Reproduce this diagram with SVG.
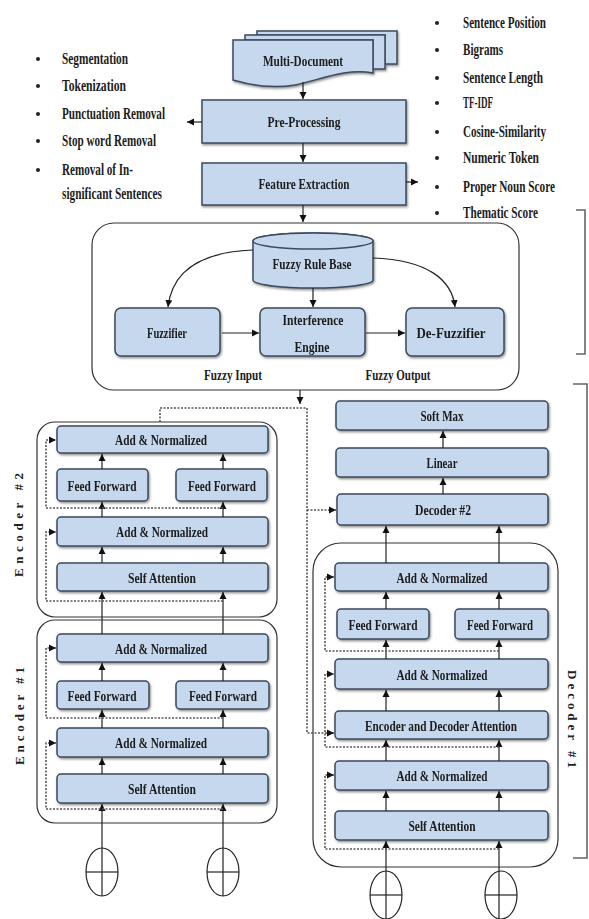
<svg xmlns="http://www.w3.org/2000/svg" width="589" height="919" viewBox="0 0 589 919">
<defs>
<style>
.box{fill:#c5d8ee;stroke:#3c4a5c;stroke-width:1.5}
.t{font-family:"Liberation Serif",serif;font-weight:bold;font-size:15.5px;fill:#1c1c1c;text-anchor:middle}
.b{font-family:"Liberation Serif",serif;font-weight:bold;font-size:16px;fill:#1c1c1c}
.ln{stroke:#222;stroke-width:1.2;fill:none}
.dash{stroke:#555;stroke-width:1.6;stroke-dasharray:2 1.5;fill:none}
.frame{fill:#fff;stroke:#333;stroke-width:1.2}
.br{fill:none;stroke:#666;stroke-width:1.6}
.lab{font-family:"Liberation Serif",serif;font-weight:bold;font-size:13px;fill:#222;text-anchor:middle}
</style>
<marker id="ah" markerUnits="userSpaceOnUse" markerWidth="8" markerHeight="8" refX="7" refY="4" orient="auto">
<path d="M0,0.5 L7,4 L0,7.5 z" fill="#111"/>
</marker>
<filter id="sh" x="-5%" y="-10%" width="110%" height="130%">
<feDropShadow dx="1" dy="1.5" stdDeviation="0.8" flood-color="#333" flood-opacity="0.55"/>
</filter>
</defs>
<rect width="589" height="919" fill="#fff"/>

<!-- bullet lists -->
<g id="preproc-list" class="b">
<circle cx="38" cy="59" r="2" fill="#222"/><text x="62" y="64" textLength="66" lengthAdjust="spacingAndGlyphs">Segmentation</text>
<circle cx="38" cy="86" r="2" fill="#222"/><text x="62" y="91" textLength="64" lengthAdjust="spacingAndGlyphs">Tokenization</text>
<circle cx="38" cy="114" r="2" fill="#222"/><text x="62" y="119" textLength="103" lengthAdjust="spacingAndGlyphs">Punctuation Removal</text>
<circle cx="38" cy="141" r="2" fill="#222"/><text x="62" y="146" textLength="94" lengthAdjust="spacingAndGlyphs">Stop word Removal</text>
<circle cx="38" cy="170" r="2" fill="#222"/><text x="62" y="175" textLength="71" lengthAdjust="spacingAndGlyphs">Removal of In-</text>
<text x="62" y="199" textLength="100" lengthAdjust="spacingAndGlyphs">significant Sentences</text>
</g>
<g id="feature-list" class="b">
<circle cx="437" cy="23" r="2" fill="#222"/><text x="463" y="28" textLength="83" lengthAdjust="spacingAndGlyphs">Sentence Position</text>
<circle cx="437" cy="50" r="2" fill="#222"/><text x="463" y="55" textLength="40" lengthAdjust="spacingAndGlyphs">Bigrams</text>
<circle cx="437" cy="78" r="2" fill="#222"/><text x="463" y="83" textLength="80" lengthAdjust="spacingAndGlyphs">Sentence Length</text>
<circle cx="437" cy="103" r="2" fill="#222"/><text x="463" y="108" textLength="30" lengthAdjust="spacingAndGlyphs">TF-IDF</text>
<circle cx="437" cy="132" r="2" fill="#222"/><text x="463" y="137" textLength="83" lengthAdjust="spacingAndGlyphs">Cosine-Similarity</text>
<circle cx="437" cy="158" r="2" fill="#222"/><text x="463" y="163" textLength="76" lengthAdjust="spacingAndGlyphs">Numeric Token</text>
<circle cx="437" cy="187" r="2" fill="#222"/><text x="463" y="192" textLength="92" lengthAdjust="spacingAndGlyphs">Proper Noun Score</text>
<circle cx="437" cy="213" r="2" fill="#222"/><text x="463" y="218" textLength="75" lengthAdjust="spacingAndGlyphs">Thematic Score</text>
</g>

<!-- brackets -->
<path class="br" d="M576,210 H585 V354 H576"/>
<path class="br" d="M573,384 H587 V858 H573"/>

<!-- top pipeline -->
<g id="multi-document" filter="url(#sh)">
<path class="box" d="M257,31 H397 V64 H385 V35 H257 Z"/>
<path class="box" d="M245,35 H385 V69 H373 V40 H245 Z"/>
<path class="box" d="M233,40 H373 V73 C345,68 320,80 295,85 C270,89 250,85 233,80 Z"/>
<text class="t" x="303" y="66" textLength="80" lengthAdjust="spacingAndGlyphs">Multi-Document</text>
</g>
<g id="pre-processing" filter="url(#sh)">
<rect class="box" x="202" y="100" width="204" height="43"/>
<text class="t" x="304" y="127" textLength="73" lengthAdjust="spacingAndGlyphs">Pre-Processing</text>
</g>
<g id="feature-extraction" filter="url(#sh)">
<rect class="box" x="202" y="163" width="204" height="42"/>
<text class="t" x="304" y="189" textLength="91" lengthAdjust="spacingAndGlyphs">Feature Extraction</text>
</g>

<!-- fuzzy system -->
<g id="fuzzy-system">
<rect class="frame" x="92" y="223" width="427" height="167" rx="22"/>
<text class="t" x="233" y="380" textLength="58" lengthAdjust="spacingAndGlyphs">Fuzzy Input</text>
<text class="t" x="398" y="380" textLength="65" lengthAdjust="spacingAndGlyphs">Fuzzy Output</text>
</g>
<g id="fuzzy-rule-base" filter="url(#sh)">
<path class="box" d="M253,241 V280 A60,8 0 0 0 373,280 V241 A60,8 0 0 0 253,241 Z"/>
<ellipse class="box" cx="313" cy="241" rx="60" ry="8"/>
<text class="t" x="312" y="269" textLength="79" lengthAdjust="spacingAndGlyphs">Fuzzy Rule Base</text>
</g>
<g id="fuzzifier" filter="url(#sh)">
<rect class="box" x="115" y="308" width="105" height="48" rx="6"/>
<text class="t" x="167" y="338" textLength="40" lengthAdjust="spacingAndGlyphs">Fuzzifier</text>
</g>
<g id="interference-engine" filter="url(#sh)">
<rect class="box" x="260" y="308" width="105" height="48" rx="6"/>
<text class="t" x="313" y="325" textLength="61" lengthAdjust="spacingAndGlyphs">Interference</text>
<text class="t" x="312" y="352" textLength="35" lengthAdjust="spacingAndGlyphs">Engine</text>
</g>
<g id="de-fuzzifier" filter="url(#sh)">
<rect class="box" x="406" y="308" width="98" height="48" rx="6"/>
<text class="t" x="451" y="338" textLength="69" lengthAdjust="spacingAndGlyphs">De-Fuzzifier</text>
</g>

<!-- encoder frames -->
<g id="encoder-2">
<rect class="frame" x="37" y="422" width="240" height="195" rx="18"/>
<text class="lab" transform="translate(23,525) rotate(-90)" textLength="104" lengthAdjust="spacing">Encoder #2</text>
</g>
<g id="encoder-1">
<rect class="frame" x="37" y="620" width="240" height="203" rx="18"/>
<text class="lab" transform="translate(24,716) rotate(-90)" textLength="98" lengthAdjust="spacing">Encoder #1</text>
</g>
<g id="decoder-1">
<rect class="frame" x="313" y="543" width="245" height="324" rx="28"/>
<text class="lab" transform="translate(568,719) rotate(90)" textLength="98" lengthAdjust="spacing">Decoder #1</text>
</g>

<!-- encoder #2 nodes -->
<g id="e2-addnorm-top" filter="url(#sh)"><rect class="box" x="57" y="426" width="211" height="27" rx="4"/><text class="t" x="161" y="445" textLength="92" lengthAdjust="spacingAndGlyphs">Add &amp; Normalized</text></g>
<g id="e2-ff-left" filter="url(#sh)"><rect class="box" x="57" y="469" width="91" height="32" rx="4"/><text class="t" x="102" y="491" textLength="69" lengthAdjust="spacingAndGlyphs">Feed Forward</text></g>
<g id="e2-ff-right" filter="url(#sh)"><rect class="box" x="176" y="469" width="91" height="32" rx="4"/><text class="t" x="222" y="491" textLength="68" lengthAdjust="spacingAndGlyphs">Feed Forward</text></g>
<g id="e2-addnorm-mid" filter="url(#sh)"><rect class="box" x="57" y="517" width="211" height="29" rx="4"/><text class="t" x="162" y="537" textLength="92" lengthAdjust="spacingAndGlyphs">Add &amp; Normalized</text></g>
<g id="e2-self-attention" filter="url(#sh)"><rect class="box" x="57" y="563" width="211" height="28" rx="4"/><text class="t" x="162" y="583" textLength="68" lengthAdjust="spacingAndGlyphs">Self Attention</text></g>

<!-- encoder #1 nodes -->
<g id="e1-addnorm-top" filter="url(#sh)"><rect class="box" x="57" y="634" width="211" height="28" rx="4"/><text class="t" x="161" y="654" textLength="92" lengthAdjust="spacingAndGlyphs">Add &amp; Normalized</text></g>
<g id="e1-ff-left" filter="url(#sh)"><rect class="box" x="57" y="681" width="92" height="28" rx="4"/><text class="t" x="102" y="701" textLength="69" lengthAdjust="spacingAndGlyphs">Feed Forward</text></g>
<g id="e1-ff-right" filter="url(#sh)"><rect class="box" x="176" y="681" width="93" height="28" rx="4"/><text class="t" x="223" y="701" textLength="68" lengthAdjust="spacingAndGlyphs">Feed Forward</text></g>
<g id="e1-addnorm-mid" filter="url(#sh)"><rect class="box" x="57" y="728" width="211" height="29" rx="4"/><text class="t" x="161" y="748" textLength="92" lengthAdjust="spacingAndGlyphs">Add &amp; Normalized</text></g>
<g id="e1-self-attention" filter="url(#sh)"><rect class="box" x="57" y="774" width="211" height="29" rx="4"/><text class="t" x="162" y="794" textLength="68" lengthAdjust="spacingAndGlyphs">Self Attention</text></g>

<!-- decoder nodes -->
<g id="soft-max" filter="url(#sh)"><rect class="box" x="336" y="401" width="212" height="29" rx="4"/><text class="t" x="442" y="421" textLength="43" lengthAdjust="spacingAndGlyphs">Soft Max</text></g>
<g id="linear" filter="url(#sh)"><rect class="box" x="336" y="448" width="212" height="29" rx="4"/><text class="t" x="442" y="468" textLength="31" lengthAdjust="spacingAndGlyphs">Linear</text></g>
<g id="decoder-2" filter="url(#sh)"><rect class="box" x="337" y="494" width="211" height="31" rx="4"/><text class="t" x="443" y="515" textLength="56" lengthAdjust="spacingAndGlyphs">Decoder #2</text></g>
<g id="d1-addnorm-top" filter="url(#sh)"><rect class="box" x="335" y="563" width="213" height="28" rx="4"/><text class="t" x="442" y="583" textLength="91" lengthAdjust="spacingAndGlyphs">Add &amp; Normalized</text></g>
<g id="d1-ff-left" filter="url(#sh)"><rect class="box" x="337" y="609" width="92" height="30" rx="4"/><text class="t" x="383" y="630" textLength="69" lengthAdjust="spacingAndGlyphs">Feed Forward</text></g>
<g id="d1-ff-right" filter="url(#sh)"><rect class="box" x="455" y="609" width="93" height="30" rx="4"/><text class="t" x="500" y="630" textLength="66" lengthAdjust="spacingAndGlyphs">Feed Forward</text></g>
<g id="d1-addnorm-mid" filter="url(#sh)"><rect class="box" x="335" y="659" width="213" height="30" rx="4"/><text class="t" x="442" y="680" textLength="91" lengthAdjust="spacingAndGlyphs">Add &amp; Normalized</text></g>
<g id="d1-enc-dec-attention" filter="url(#sh)"><rect class="box" x="335" y="711" width="213" height="28" rx="4"/><text class="t" x="441" y="731" textLength="152" lengthAdjust="spacingAndGlyphs">Encoder and Decoder Attention</text></g>
<g id="d1-addnorm-low" filter="url(#sh)"><rect class="box" x="335" y="761" width="213" height="29" rx="4"/><text class="t" x="442" y="781" textLength="91" lengthAdjust="spacingAndGlyphs">Add &amp; Normalized</text></g>
<g id="d1-self-attention" filter="url(#sh)"><rect class="box" x="335" y="811" width="213" height="29" rx="4"/><text class="t" x="442" y="831" textLength="67" lengthAdjust="spacingAndGlyphs">Self Attention</text></g>

<!-- positional encoding circles -->
<g id="enc-pos-left"><ellipse cx="102" cy="872" rx="16" ry="24" fill="#fff" stroke="#222" stroke-width="1.2"/><path class="ln" d="M86,872 H118"/></g>
<g id="enc-pos-right"><ellipse cx="223" cy="872" rx="16" ry="24" fill="#fff" stroke="#222" stroke-width="1.2"/><path class="ln" d="M207,872 H239"/></g>
<g id="dec-pos-left"><ellipse cx="386" cy="895" rx="16" ry="24" fill="#fff" stroke="#222" stroke-width="1.2"/><path class="ln" d="M370,895 H402"/></g>
<g id="dec-pos-right"><ellipse cx="501" cy="895" rx="16" ry="24" fill="#fff" stroke="#222" stroke-width="1.2"/><path class="ln" d="M485,895 H517"/></g>

<!-- connectors -->
<g id="connectors">
<g class="ln" marker-end="url(#ah)">
<path d="M303,82 V99"/>
<path d="M303,143 V162"/>
<path d="M303,205 V222"/>
<path d="M202,122 H187"/>
<path d="M406,182 H418"/>
<path d="M222,333 H259"/>
<path d="M366,333 H405"/>
<path d="M313,288 V307"/>
<path d="M253,250 C200,252 172,272 168,307"/>
<path d="M373,258 C428,260 452,280 455,307"/>
<path d="M300,390 V404"/>
<path d="M102,896 V804"/><path d="M102,774 V758"/><path d="M102,728 V710"/><path d="M102,681 V663"/>
<path d="M102,634 V592"/><path d="M102,563 V547"/><path d="M102,517 V502"/><path d="M102,469 V454"/>
<path d="M223,896 V804"/><path d="M223,774 V758"/><path d="M223,728 V710"/><path d="M223,681 V663"/>
<path d="M223,634 V592"/><path d="M223,563 V547"/><path d="M223,517 V502"/><path d="M223,469 V454"/>
<path d="M386,919 V841"/><path d="M386,811 V791"/><path d="M386,761 V740"/><path d="M386,711 V690"/>
<path d="M386,659 V640"/><path d="M386,609 V592"/><path d="M386,563 V526"/>
<path d="M499,919 V841"/><path d="M499,811 V791"/><path d="M499,761 V740"/><path d="M499,711 V690"/>
<path d="M499,659 V640"/><path d="M499,609 V592"/><path d="M499,563 V526"/>
<path d="M443,494 V478"/><path d="M443,448 V431"/>
</g>
<g class="dash" marker-end="url(#ah)">
<path d="M160,422 V408 H307 V733 H334"/>
<path d="M307,510 H336"/>
<path d="M223,601 H46 V532 H56"/>
<path d="M223,508 H46 V440 H56"/>
<path d="M223,809 H46 V743 H56"/>
<path d="M223,718 H46 V648 H56"/>
<path d="M499,849 H325 V775 H334"/>
<path d="M499,747 H325 V674 H334"/>
<path d="M499,651 H325 V577 H334"/>
</g>
</g>
</svg>
